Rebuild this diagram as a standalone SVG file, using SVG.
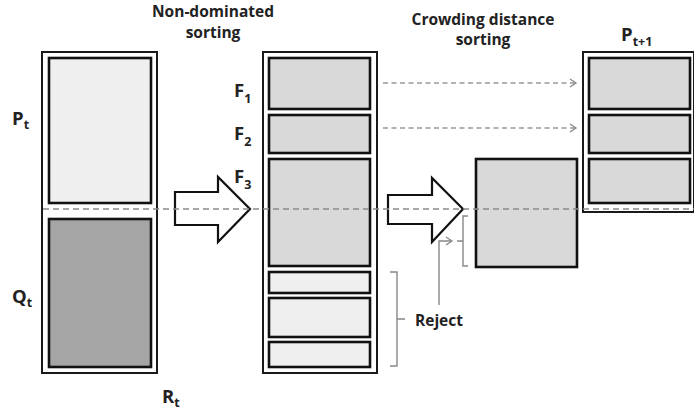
<svg xmlns="http://www.w3.org/2000/svg" width="694" height="412" viewBox="0 0 694 412">
<defs>
<style>
.outer{fill:#fff;stroke:#1a1a1a;stroke-width:2}
.inner{stroke:#111;stroke-width:2.6}
.light{fill:#efefef}
.mid{fill:#d9d9d9}
.dark{fill:#a5a5a5}
.blk{fill:#fff;stroke:#111;stroke-width:2.2;stroke-linejoin:miter}
.lbl{font-family:"Open Sans","Liberation Sans",sans-serif;font-weight:bold;fill:#222}
.title{font-family:"Open Sans","Liberation Sans",sans-serif;font-weight:bold;font-size:15.5px;fill:#222;text-anchor:middle}
.dash{fill:none;stroke:#8a8a8a;stroke-width:1.6;stroke-dasharray:6 4}
.dash2{fill:none;stroke:#999;stroke-width:1.3;stroke-dasharray:5 3.5}
.thin{fill:none;stroke:#888;stroke-width:1.4}
</style>
<marker id="chev" markerWidth="10" markerHeight="10" refX="8" refY="5" orient="auto" markerUnits="userSpaceOnUse">
<path d="M2,1 L8,5 L2,9" fill="none" stroke="#888" stroke-width="1.3"/>
</marker>
</defs>
<rect width="694" height="412" fill="#fff"/>

<g id="titles">
<text class="title" x="213" y="17">Non-dominated</text>
<text class="title" x="213" y="38">sorting</text>
<text class="title" x="483" y="25">Crowding distance</text>
<text class="title" x="483" y="45">sorting</text>
</g>

<g id="Rt">
<rect class="outer" x="42" y="52" width="115" height="321"/>
<rect class="inner light" x="49" y="58" width="102" height="145"/>
<rect class="inner dark" x="49" y="219" width="102" height="148"/>
<text class="lbl" x="12" y="125" font-size="18.5">P<tspan font-size="12.5" dy="4">t</tspan></text>
<text class="lbl" x="12" y="303" font-size="18.5">Q<tspan font-size="12.5" dy="4">t</tspan></text>
<text class="lbl" x="162" y="403" font-size="18.5">R<tspan font-size="12.5" dy="4">t</tspan></text>
</g>

<g id="arrow1">
<path class="blk" d="M175,192 H218 V177 L250,209 L218,242 V225 H175 Z"/>
</g>

<g id="fronts">
<rect class="outer" x="263" y="52" width="114" height="321"/>
<rect class="inner mid" x="269" y="58" width="101" height="51"/>
<rect class="inner mid" x="269" y="115" width="101" height="38"/>
<rect class="inner mid" x="269" y="159" width="101" height="107"/>
<rect class="inner light" x="269" y="272" width="101" height="21"/>
<rect class="inner light" x="269" y="298" width="101" height="39"/>
<rect class="inner light" x="269" y="342" width="101" height="25"/>
<text class="lbl" x="234" y="97" font-size="18.5">F<tspan font-size="12.5" dy="6">1</tspan></text>
<text class="lbl" x="234" y="140" font-size="18.5">F<tspan font-size="12.5" dy="6">2</tspan></text>
<text class="lbl" x="234" y="183" font-size="18.5">F<tspan font-size="12.5" dy="6">3</tspan></text>
</g>

<g id="arrow2">
<path class="blk" d="M388,195 H432 V178 L463,209 L432,242 V224 H388 Z"/>
</g>

<g id="crowding">
<rect class="inner mid" x="476" y="159" width="101" height="108"/>
</g>

<g id="Pt1">
<rect class="outer" x="583" y="52" width="111" height="160"/>
<rect class="inner mid" x="589" y="58" width="101" height="51"/>
<rect class="inner mid" x="589" y="115" width="101" height="38"/>
<rect class="inner mid" x="589" y="159" width="101" height="44"/>
<text class="lbl" x="621" y="41" font-size="18.5">P<tspan font-size="12.5" dy="5">t+1</tspan></text>
</g>

<g id="reject">
<text class="lbl" x="415" y="326" font-size="15.5">Reject</text>
</g>

<g id="connectors">
<path class="dash2" d="M383,83 H576" marker-end="url(#chev)"/>
<path class="dash2" d="M383,128 H576" marker-end="url(#chev)"/>
<path class="thin" d="M390,272 H397 V366 H390 M397,319 H405"/>
<path class="thin" d="M468,216 H463 V266 H468 M463,241 H457"/>
<path class="thin" d="M439,305 V241 H452" marker-end="url(#chev)"/>
<path class="dash" d="M43,209 H694"/>
</g>
</svg>
